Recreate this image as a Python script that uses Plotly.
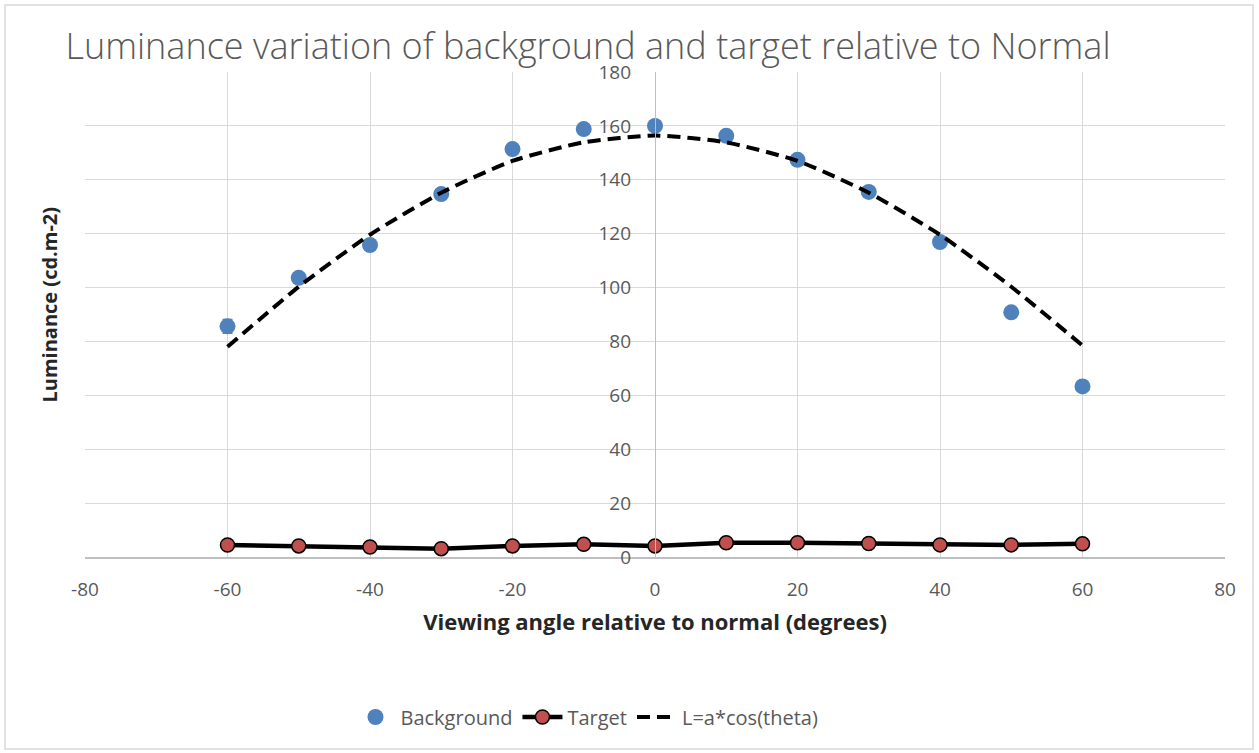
import plotly.graph_objects as go

angles = [-60, -50, -40, -30, -20, -10, 0, 10, 20, 30, 40, 50, 60]
background = [85.6, 103.6, 115.8, 134.7, 151.4, 158.8, 160.0, 156.3, 147.4, 135.5, 116.9, 90.8, 63.3]
background_err = [2.6, 1.0, 1.0, 1.0, 1.0, 1.0, 1.0, 1.0, 1.0, 1.0, 1.0, 1.0, 1.0]
target = [4.45, 4.1, 3.7, 3.1, 4.1, 4.7, 4.1, 5.3, 5.3, 5.0, 4.5, 4.5, 4.9]
fit = [78.0, 100.3, 119.6, 135.2, 147.0, 153.9, 156.4, 153.9, 147.0, 135.2, 119.6, 100.3, 78.5]
x_ticks = [-80, -60, -40, -20, 0, 20, 40, 60, 80]
x_ticktext = ["-80", "-60", "-40", "-20", "0", "20", "40", "60", "80"]
y_ticks = [0, 20, 40, 60, 80, 100, 120, 140, 160, 180]

FONT = "'Open Sans', Lato, sans-serif"
GREY = "#595959"

fig = go.Figure()
fig.add_trace(go.Scatter(
    x=angles, y=background, mode="markers", name="Background",
    marker=dict(color="#4F81BD", size=16),
    error_y=dict(type="data", array=background_err, color="#7f7f7f", thickness=1.2, width=5),
))
fig.add_trace(go.Scatter(
    x=angles, y=target, mode="lines+markers", name="Target",
    line=dict(color="black", width=4.5),
    marker=dict(color="#C0504D", size=14, line=dict(color="black", width=1.5)),
))
fig.add_trace(go.Scatter(
    x=angles, y=fit, mode="lines", name="L=a*cos(theta)",
    line=dict(color="black", width=4, dash="13px,7px", shape="spline", smoothing=0.6),
))

L, R, T, B = 85, 1225, 72, 557
W, H = 1259, 753
def px(xp):
    return (xp - L) / (R - L)
def py(yp):
    return (B - yp) / (B - T)

fig.update_layout(
    width=W, height=H,
    margin=dict(l=L, r=W - R, t=T, b=H - B),
    paper_bgcolor="white", plot_bgcolor="white",
    font=dict(family=FONT, color=GREY),
    title=dict(text="Luminance variation of background and target relative to Normal",
               x=588 / W, xanchor="center", y=1 - 46 / H, yanchor="middle",
               font=dict(size=36, color=GREY, family=FONT, weight=300)),
    showlegend=True,
    legend=dict(orientation="h", x=px(587), xanchor="center", y=py(717), yanchor="middle",
                font=dict(size=20, color=GREY), itemwidth=40, traceorder="normal"),
    xaxis=dict(range=[-80, 80], tickvals=x_ticks, ticktext=x_ticktext, showgrid=True,
               gridcolor="#d9d9d9", gridwidth=1.3,
               zeroline=False, showline=True, linecolor="#bfbfbf", linewidth=1.5,
               tickfont=dict(size=19, color=GREY), ticks="", ticklabelstandoff=14,
               title=dict(text="<b>Viewing angle relative to normal (degrees)</b>",
                          font=dict(size=22, color="#262626"), standoff=14)),
    yaxis=dict(range=[0, 180], tickvals=y_ticks, showgrid=True, gridcolor="#d9d9d9", gridwidth=1.3,
               zeroline=False, showline=True, linecolor="#bfbfbf", linewidth=1.3,
               anchor="free", position=0.5, ticks="", ticklabelstandoff=20,
               tickfont=dict(size=19, color=GREY)),
)
fig.add_annotation(text="<b>Luminance (cd.m-2)</b>", xref="paper", yref="paper",
                   x=px(33), y=py(305), textangle=-90, showarrow=False,
                   font=dict(size=20, color="#262626", family=FONT))
fig.add_shape(type="rect", xref="paper", yref="paper",
              x0=px(5), x1=px(1253), y0=py(5), y1=py(749),
              line=dict(color="#d9d9d9", width=1.5), layer="below")

fig.write_html("out.html")
